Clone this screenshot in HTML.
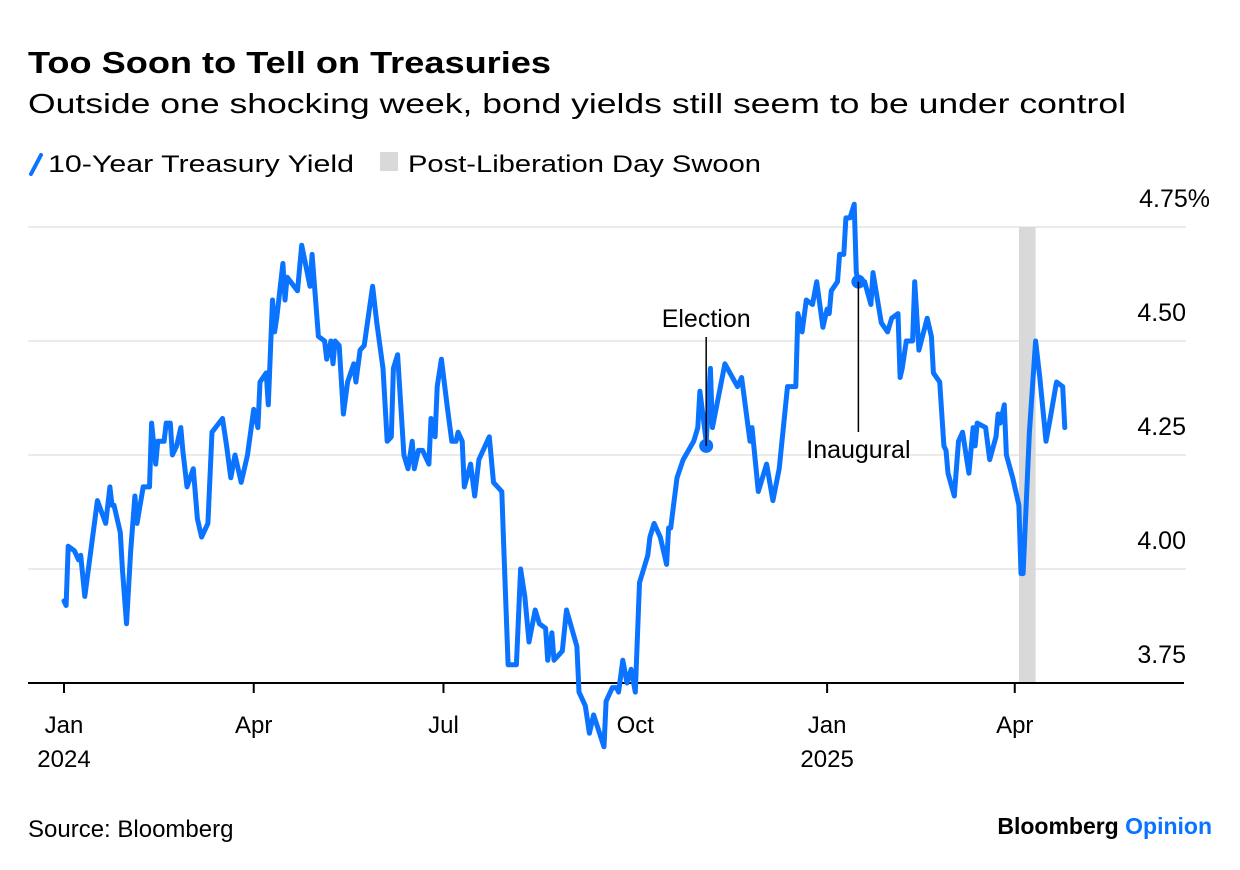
<!DOCTYPE html>
<html><head><meta charset="utf-8"><style>
html,body{margin:0;padding:0;background:#fff}
svg{display:block;font-family:"Liberation Sans",sans-serif}
</style></head><body>
<svg id="chart" width="1240" height="870" viewBox="0 0 1240 870">
<text x="28" y="73" font-size="31" font-weight="bold" textLength="523" lengthAdjust="spacingAndGlyphs">Too Soon to Tell on Treasuries</text>
<text x="28" y="113" font-size="28" textLength="1098" lengthAdjust="spacingAndGlyphs">Outside one shocking week, bond yields still seem to be under control</text>
<g>
<line x1="31" y1="174" x2="41" y2="155" stroke="#0a73ff" stroke-width="4" stroke-linecap="round"/>
<text x="48" y="172" font-size="24" textLength="306" lengthAdjust="spacingAndGlyphs">10-Year Treasury Yield</text>
<rect x="380" y="152" width="18" height="19" fill="#d9d9d9"/>
<text x="408" y="172" font-size="24" textLength="353" lengthAdjust="spacingAndGlyphs">Post-Liberation Day Swoon</text>
</g>
<g id="grid"></g>
<g id="band"></g>
<g id="xaxis"></g>
<g id="series"></g>
<g id="annot"></g>
<text x="28" y="837" font-size="24">Source: Bloomberg</text>
<text x="1212" y="834" font-size="23" font-weight="bold" text-anchor="end">Bloomberg <tspan fill="#0a73ff">Opinion</tspan></text>
</svg>
<script>
// Days since 2024-01-01
const days = [0,1,2,5,7,8,10,16,20,22,23,24,27,28,30,32,34,35,38,41,42,44,45,48,49,51,52,54,56,57,59,62,64,66,69,71,76,78,80,82,85,88,91,93,94,97,98,100,101,102,105,106,107,112,114,118,119,122,125,126,128,129,130,132,134,136,139,140,142,144,148,150,153,155,157,158,160,163,165,167,168,170,172,175,176,178,179,181,184,186,188,189,191,192,195,197,199,204,206,210,211,213,217,219,221,223,226,228,231,232,234,235,239,241,246,247,250,252,254,259,260,263,265,266,268,270,272,274,276,280,281,283,286,289,290,291,294,297,302,304,305,308,310,311,317,323,325,329,330,333,337,340,343,347,351,352,354,356,359,361,364,366,367,368,371,372,374,375,377,379,380,381,384,387,388,392,395,397,400,401,402,404,407,408,410,414,416,417,420,422,423,424,427,429,431,434,436,437,438,442,444,447,448,449,451,452,455,458,459,460,463,466,468,471,473,476,479,480];
const yields = [3.93,3.92,4.05,4.04,4.02,4.03,3.94,4.15,4.10,4.18,4.14,4.14,4.08,4.00,3.88,4.04,4.16,4.10,4.18,4.18,4.32,4.23,4.28,4.28,4.32,4.32,4.25,4.27,4.31,4.26,4.18,4.22,4.11,4.07,4.10,4.30,4.33,4.27,4.20,4.25,4.19,4.25,4.35,4.31,4.41,4.43,4.36,4.59,4.52,4.55,4.67,4.59,4.64,4.61,4.71,4.62,4.69,4.51,4.50,4.46,4.50,4.45,4.50,4.49,4.34,4.41,4.45,4.41,4.48,4.49,4.62,4.54,4.44,4.28,4.29,4.44,4.47,4.25,4.22,4.28,4.22,4.26,4.26,4.23,4.33,4.29,4.40,4.46,4.35,4.28,4.28,4.30,4.28,4.18,4.23,4.16,4.24,4.29,4.19,4.17,4.04,3.79,3.79,4.00,3.94,3.84,3.91,3.88,3.87,3.80,3.86,3.80,3.82,3.91,3.83,3.73,3.70,3.64,3.68,3.61,3.71,3.74,3.74,3.73,3.80,3.75,3.78,3.73,3.97,4.03,4.07,4.10,4.07,4.01,4.09,4.09,4.20,4.24,4.28,4.31,4.39,4.28,4.44,4.31,4.45,4.40,4.42,4.28,4.31,4.17,4.23,4.15,4.22,4.40,4.40,4.56,4.52,4.59,4.58,4.63,4.53,4.57,4.56,4.61,4.63,4.69,4.69,4.77,4.77,4.80,4.65,4.63,4.63,4.58,4.65,4.54,4.52,4.55,4.56,4.42,4.44,4.50,4.50,4.63,4.48,4.55,4.51,4.43,4.41,4.27,4.26,4.21,4.16,4.28,4.30,4.21,4.31,4.27,4.32,4.31,4.24,4.29,4.34,4.32,4.36,4.25,4.20,4.14,3.99,3.99,4.30,4.50,4.42,4.28,4.33,4.41,4.40,4.31];
const yTicks = [3.75,4.00,4.25,4.50,4.75];
const yTickLabels = ["3.75","4.00","4.25","4.50","4.75%"];
const xTickDays = [0,91,182,274,366,456];
const xTickLabels = ["Jan","Apr","Jul","Oct","Jan","Apr"];
const xYearLabels = ["2024","","","","2025",""];
const bandDays = [458,466];
const events = ["Election","Inaugural"];
const eventDays = [308,381];
const eventYields = [4.27,4.63];

const NS="http://www.w3.org/2000/svg";
const X0=64, PXD=2.085, Y0=227, PXV=456;
const xs=d=>X0+d*PXD;
const ys=v=>Y0+(4.75-v)*PXV;
function mk(tag,attrs,parent,text){const e=document.createElementNS(NS,tag);for(const k in attrs)e.setAttribute(k,attrs[k]);if(text!==undefined)e.textContent=text;parent.appendChild(e);return e;}

const grid=document.getElementById('grid');
yTicks.forEach((t,i)=>{
  if(i>0){const l=mk('line',{x1:28,x2:1186,y1:ys(t),y2:ys(t),stroke:'#ebebeb','stroke-width':2},grid);
  
  }
  const lab=yTickLabels[i];
  const tx=mk('text',{x:lab.endsWith('%')?1210:1186,y:ys(t)-20,'font-size':25,'text-anchor':'end'},grid,lab);
  
  
});
const band=document.getElementById('band');
const br=mk('rect',{x:xs(bandDays[0]),y:Y0,width:xs(bandDays[1])-xs(bandDays[0]),height:ys(3.75)-Y0,fill:'#d9d9d9'},band);



const xa=document.getElementById('xaxis');
const al=mk('line',{x1:28,x2:1184,y1:ys(3.75),y2:ys(3.75),stroke:'#000','stroke-width':2},xa);


xTickDays.forEach((d,i)=>{
  const tk=mk('line',{x1:xs(d),x2:xs(d),y1:ys(3.75),y2:ys(3.75)+10,stroke:'#000','stroke-width':2},xa);
  
  
  const t=mk('text',{x:xs(d),y:733,'font-size':24,'text-anchor':'middle'},xa,xTickLabels[i]);
  
  
  if(xYearLabels[i]){const y=mk('text',{x:xs(d),y:767,'font-size':24,'text-anchor':'middle'},xa,xYearLabels[i]);
  
  }
});

const ser=document.getElementById('series');
const pts=days.map((d,i)=>xs(d).toFixed(1)+','+ys(yields[i]).toFixed(1)).join(' ');
const pl=mk('polyline',{points:pts,fill:'none',stroke:'#0a73ff','stroke-width':5,'stroke-linejoin':'round','stroke-linecap':'round'},ser);



const an=document.getElementById('annot');
events.forEach((e,i)=>{
  const x=xs(eventDays[i]), y=ys(eventYields[i]);
  const dot=mk('circle',{cx:x,cy:y,r:7,fill:'#0a73ff'},an);
  
  
  let l,t;
  if(i===0){l=mk('line',{x1:x,x2:x,y1:337,y2:y,stroke:'#000','stroke-width':1.5},an);
    t=mk('text',{x:x,y:327,'font-size':25,'text-anchor':'middle'},an,e);}
  else{l=mk('line',{x1:x,x2:x,y1:y,y2:432,stroke:'#000','stroke-width':1.5},an);
    t=mk('text',{x:x,y:458,'font-size':25,'text-anchor':'middle'},an,e);}
  
  
  
  
});
</script>
</body></html>
